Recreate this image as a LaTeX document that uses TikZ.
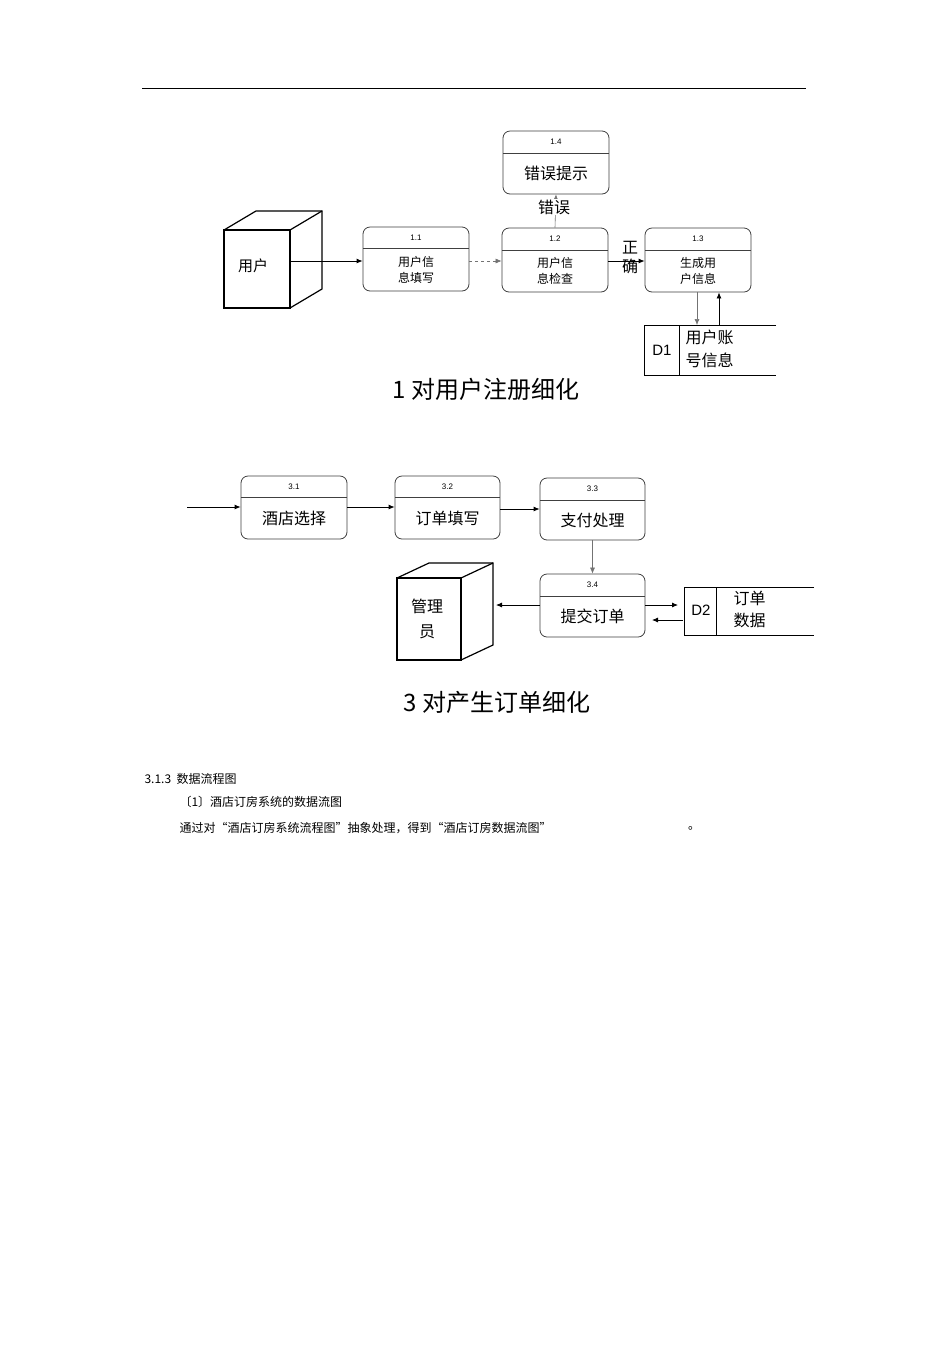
\documentclass[tikz,border=0pt]{standalone}
\usepackage{fontspec}
\setmainfont{Liberation Sans}
\newfontfamily\cjk{Noto Sans CJK SC}
\usetikzlibrary{arrows.meta}
\tikzset{
  proc/.style={draw=black!75,rounded corners=7pt,line width=0.8pt,inner sep=0pt},
  arr/.style={-{Latex[length=6pt,width=5pt]},line width=0.8pt},
  garr/.style={-{Latex[length=6pt,width=5pt]},line width=0.6pt,black!55},
  cube/.style={line width=1.2pt},
}
\newcommand{\myproc}[9]{%
  \node[proc,minimum width=#4-#2,minimum height=#5-#3] (#1) at ({(#2+#4)/2},{(#3+#5)/2}) {};
  \draw[black!75,line width=0.8pt] (#2,#6) -- (#4,#6);
  \node[font=\fontsize{8}{9}\selectfont] (#1n) at ({(#2+#4)/2},{(#3+#6)/2}) {#7};
  \node[font=\cjk\fontsize{#9}{16}\selectfont,align=center] (#1t) at ({(#2+#4)/2},{(#6+#5)/2}) {#8};
}
\begin{document}
\begin{tikzpicture}[x=1pt,y=-1pt]
\useasboundingbox (0,0) rectangle (950,1345);
\fill[white] (0,0) rectangle (950,1345);
\draw[line width=0.6pt] (142,88) -- (806,88);
% ---- part 1
\draw[cube] (224,230) rectangle (290,308);
\draw[cube] (224,230) -- (256,211) -- (322,211) -- (322,289) -- (290,308);
\draw[cube] (290,230) -- (322,211);
\node[font=\cjk\fontsize{15}{17}\selectfont] (user) at (253,266) {用户};
\coordinate (userR) at (290,261);
\myproc{p11}{363}{227}{469}{291}{248}{1.1}{用户信\\息填写}{12}
\myproc{p12}{502}{228}{608}{292}{250}{1.2}{用户信\\息检查}{12}
\myproc{p13}{645}{228}{751}{292}{250}{1.3}{生成用\\户信息}{12}
\myproc{p14}{503}{131}{609}{194}{153}{1.4}{错误提示}{16}
\draw[arr] (userR) -- (p11.west|-userR);
\draw[garr,dashed] (p11.east|-userR) -- (p12.west|-userR);
\draw[arr] (p12.east|-userR) -- (p13.west|-userR);
\node[font=\cjk\fontsize{16}{19}\selectfont,align=center] (zq) at (630,258) {正\\确};
\draw[garr] (p12.north) -- (p14.south);
\node[font=\cjk\fontsize{16}{18}\selectfont,fill=white,inner sep=1pt] (cw) at (554,207) {错误};
% D1
\draw[line width=0.8pt] (776,325) -- (644,325) -- (644,375) -- (776,375);
\draw[line width=0.8pt] (679,325) -- (679,375);
\node[font=\fontsize{15}{17}\selectfont] (d1) at (662,350) {D1};
\node[font=\cjk\fontsize{16}{23}\selectfont,align=left,anchor=west] (d1t) at (682,349) {用户账\\号信息};
\coordinate (d1a) at (697,325);
\coordinate (d1b) at (719,325);
\draw[garr] (p13.south-|d1a) -- (d1a);
\draw[arr] (d1b) -- (p13.south-|d1b);
\node[font=\cjk\fontsize{24}{28}\selectfont] (cap1) at (486,389) {1 对用户注册细化};
% ---- part 3
\coordinate (in3) at (187,507);
\myproc{p31}{241}{476}{347}{539}{497}{3.1}{酒店选择}{16}
\myproc{p32}{395}{476}{500}{539}{497}{3.2}{订单填写}{16}
\myproc{p33}{540}{478}{645}{540}{500}{3.3}{支付处理}{16}
\myproc{p34}{540}{574}{645}{637}{596}{3.4}{提交订单}{16}
\draw[arr] (in3) -- (p31.west|-in3);
\draw[arr] (p31.east|-in3) -- (p32.west|-in3);
\coordinate (r32) at (500,509);
\draw[arr] (r32) -- (p33.west|-r32);
\draw[garr] (p33.south) -- (p34.north);
\draw[cube] (397,578) rectangle (461,660);
\draw[cube] (397,578) -- (429,563) -- (493,563) -- (493,645) -- (461,660);
\draw[cube] (461,578) -- (493,563);
\node[font=\cjk\fontsize{16}{25}\selectfont,align=center] (mgr) at (427,619) {管理\\员};
\coordinate (mgrR) at (496,605);
\draw[arr] (p34.west|-mgrR) -- (mgrR);
\draw[line width=0.8pt] (814,587) -- (684,587) -- (684,635) -- (814,635);
\draw[line width=0.8pt] (716,587) -- (716,635);
\node[font=\fontsize{15}{17}\selectfont] (d2) at (701,610) {D2};
\node[font=\cjk\fontsize{16}{22}\selectfont,align=left,anchor=west] (d2t) at (730,609) {订单\\数据};
\coordinate (d2a) at (678,605);
\coordinate (d2b) at (683,620);
\coordinate (d2c) at (652,620);
\draw[arr] (p34.east|-d2a) -- (d2a);
\draw[arr] (d2b) -- (d2c);
\node[font=\cjk\fontsize{24}{28}\selectfont] (cap3) at (497,702) {3 对产生订单细化};
% ---- text
\node[font=\cjk\fontsize{12}{14}\selectfont,anchor=west] (t1) at (141,779) {3.1.3\ \ 数据流程图};
\node[font=\cjk\fontsize{12}{14}\selectfont,anchor=west] (t2) at (176,802) {〔1〕酒店订房系统的数据流图};
\node[font=\cjk\fontsize{12}{14}\selectfont,anchor=west] (t3) at (176,828) {通过对“酒店订房系统流程图”抽象处理，得到“酒店订房数据流图”};
\node[font=\cjk\fontsize{12}{14}\selectfont] (t4) at (694,828) {。};
\end{tikzpicture}
\end{document}
